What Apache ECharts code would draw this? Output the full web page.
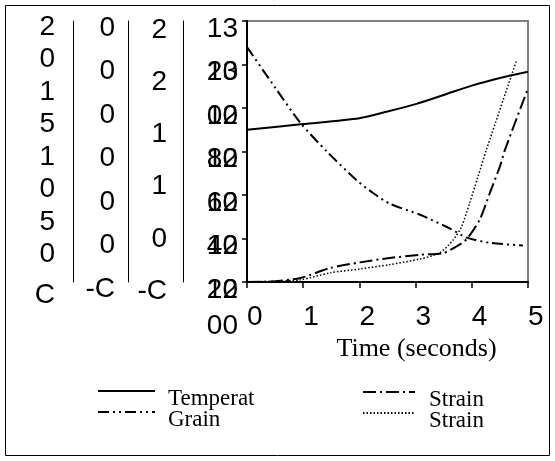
<!DOCTYPE html>
<html>
<head>
<meta charset="utf-8">
<script src="https://cdn.jsdelivr.net/npm/echarts@6/dist/echarts.min.js"></script>
<style>
html, body { margin: 0; padding: 0; background: #fff; }
#chart { width: 555px; height: 461px; }
</style>
</head>
<body>
<div id="chart"></div>
<script>
// series names and the (cut off) text shown in the legend
var seriesNames = ['Temperature', 'Grain size', 'Strain rate', 'Strain'];
var legendLabels = ['Temperat', 'Grain', 'Strain', 'Strain'];

// time in seconds / values
var tempTime = [0, 1, 2, 2.5, 3, 3.5, 4, 4.5, 5];
var tempValue = [1270, 1272.6, 1275.3, 1278.4, 1281.8, 1286, 1290.3, 1293.8, 1296.7];

var grainTime = [0, 0.5, 0.95, 1.42, 1.95, 2.25, 2.54, 3.08, 3.61, 3.91, 4.32, 4.91];
var grainValue = [18.0, 14.9, 12.2, 10.0, 7.8, 6.8, 6.0, 5.15, 4.1, 3.4, 3.0, 2.8];

var rateTime = [0, 0.47, 0.95, 1.48, 2.01, 2.54, 3.08, 3.49, 3.73, 3.91, 4.14, 4.32, 4.5, 4.59, 4.99];
var rateValue = [-0.5, -0.494, -0.462, -0.366, -0.312, -0.27, -0.239, -0.223, -0.159, -0.089, 0.096, 0.352, 0.606, 0.766, 1.34];

var strainTime = [0, 0.5, 0.95, 1.48, 2.01, 2.54, 3.08, 3.43, 3.67, 3.82, 3.96, 4.11, 4.26, 4.79];
var strainValue = [-0.01, -0.0098, -0.0095, -0.0079, -0.007, -0.006, -0.0047, -0.0033, -0.0003, 0.0028, 0.0081, 0.0142, 0.0204, 0.0407];

// temperature axis labels wrap onto two lines; the second line lands on the next tick
var tempTicks = [1320, 1300, 1280, 1260, 1240, 1220, 1200];
// tick labels of the narrow left axes, top to bottom (as they show, clipped)
var grainTicks = ['2\n0', '1\n5', '1\n0', '5\n0', 'C'];
var rateTicks = ['2', '2', '1', '1', '0', '-C'];
var strainTicks = ['0', '0', '0', '0', '0', '0', '-C'];

var sans = 'Liberation Sans';
var serif = 'Liberation Serif';

function pairs(t, v) {
    return t.map(function (x, i) { return [x, v[i]]; });
}
function txt(lh) {
    return { fontFamily: sans, fontSize: 28, color: '#000', lineHeight: lh };
}
// label hangs below its tick: first line in a short box, second line in a taller one
function hang(s) {
    var parts = s.split('\n');
    if (parts.length === 1) return '{c|' + parts[0] + '}';
    return '{a|' + parts[0] + '}\n{b|' + parts[1] + '}';
}
function fromTop(list) {
    return function (value, index) { return hang(String(list[list.length - 1 - index] || '')); };
}

function leftAxis(offset, min, max, interval, formatter, margin, rich, extra) {
    return Object.assign({
        type: 'value', position: 'left', offset: offset,
        min: min, max: max, interval: interval,
        axisLine: { show: true, onZero: false, lineStyle: { color: '#000', width: 1 } },
        axisTick: { show: false },
        splitLine: { show: false },
        axisLabel: {
            showMinLabel: true, showMaxLabel: true, hideOverlap: false,
            verticalAlign: 'top', margin: margin,
            formatter: formatter, rich: rich
        }
    }, extra || {});
}

var tMin = tempTicks[tempTicks.length - 1], tMax = tempTicks[0], tStep = tempTicks[0] - tempTicks[1];

var chart = echarts.init(document.getElementById('chart'));
chart.setOption({
    animation: false,
    backgroundColor: '#fff',
    grid: {
        left: 247, right: 27, top: 21, bottom: 179,
        show: true, borderColor: '#808080', borderWidth: 2
    },
    xAxis: {
        type: 'value', min: 0, max: 5, interval: 1,
        name: 'Time (seconds)', nameLocation: 'middle', nameGap: 52,
        nameTextStyle: { fontFamily: serif, fontSize: 26, color: '#000', padding: [0, 0, 0, 58] },
        axisLine: { onZero: false, lineStyle: { color: '#000', width: 2 } },
        axisTick: { show: true, length: 6, lineStyle: { color: '#000', width: 1.5 } },
        splitLine: { show: false },
        axisLabel: { color: '#000', fontFamily: sans, fontSize: 28, align: 'left', margin: 21 }
    },
    yAxis: [
        // temperature: first line of each label
        leftAxis(0, tMin, tMax, tStep, function (v) { return hang(String(v).slice(0, 2)); }, 9,
            { c: txt(16) }, {
                axisLine: { show: true, onZero: false, lineStyle: { color: '#000', width: 2 } },
                axisTick: { show: true, length: 5, lineStyle: { color: '#000', width: 1.5 } }
            }),
        leftAxis(64, -0.5, 2, 0.5, fromTop(rateTicks), 16, { c: txt(18) }),
        leftAxis(119, -0.01, 0.05, 0.01, fromTop(strainTicks), 13, { c: txt(14) }),
        leftAxis(174, 0, 20, 5, fromTop(grainTicks), 18, { a: txt(12), b: txt(52), c: txt(26) }),
        // temperature: second line of the label one tick above; the lowest one falls under the axis
        leftAxis(0, tMin, tMax, tStep, function (v) {
            return v + tStep > tMax ? '' : hang(String(v + tStep).slice(2));
        }, 9, { c: txt(16) }, {
            axisLine: { show: false },
            name: String(tMin).slice(2), nameLocation: 'start', nameGap: 30,
            nameTextStyle: { fontFamily: sans, fontSize: 28, color: '#000', align: 'right', verticalAlign: 'top', padding: [0, 9, 0, 0] }
        })
    ],
    legend: [
        { idx: 0, left: 97, top: 375, gap: 8 },
        { idx: 1, left: 97, top: 396, gap: 8 },
        { idx: 2, left: 362, top: 376, gap: 9 },
        { idx: 3, left: 362, top: 397, gap: 9 }
    ].map(function (l) {
        return {
            data: [seriesNames[l.idx]], left: l.left, top: l.top, padding: 0,
            itemWidth: l.idx < 2 ? 57 : 52, itemHeight: 14,
            itemStyle: { opacity: 0 },
            formatter: function (n) { return '{e| }\n{t|' + legendLabels[seriesNames.indexOf(n)] + '}'; },
            textStyle: {
                rich: {
                    e: { fontFamily: serif, fontSize: 10, lineHeight: 16 },
                    t: { fontFamily: serif, fontSize: 23, color: '#000', lineHeight: 22, padding: [0, 0, 0, l.gap] }
                }
            }
        };
    }),
    graphic: [{
        type: 'rect', shape: { x: 5.5, y: 5.5, width: 544, height: 450 },
        style: { fill: 'none', stroke: '#000', lineWidth: 1 }, silent: true
    }],
    series: [
        {
            name: seriesNames[0], type: 'line', yAxisIndex: 0, symbol: 'none', smooth: 0.25,
            itemStyle: { color: '#000' },
            lineStyle: { color: '#000', width: 2, type: 'solid' },
            data: pairs(tempTime, tempValue)
        },
        {
            name: seriesNames[1], type: 'line', yAxisIndex: 3, symbol: 'none', smooth: 0.25,
            itemStyle: { color: '#000' },
            lineStyle: { color: '#000', width: 2, type: [11, 4, 2, 4, 2, 4] },
            data: pairs(grainTime, grainValue)
        },
        {
            name: seriesNames[2], type: 'line', yAxisIndex: 1, symbol: 'none', smooth: 0.25,
            itemStyle: { color: '#000' },
            lineStyle: { color: '#000', width: 2, type: [13, 4, 2, 4] },
            data: pairs(rateTime, rateValue)
        },
        {
            name: seriesNames[3], type: 'line', yAxisIndex: 2, symbol: 'none', smooth: 0.25,
            itemStyle: { color: '#000' },
            lineStyle: { color: '#000', width: 1.5, type: [1.5, 2] },
            data: pairs(strainTime, strainValue)
        }
    ]
});
</script>
</body>
</html>
